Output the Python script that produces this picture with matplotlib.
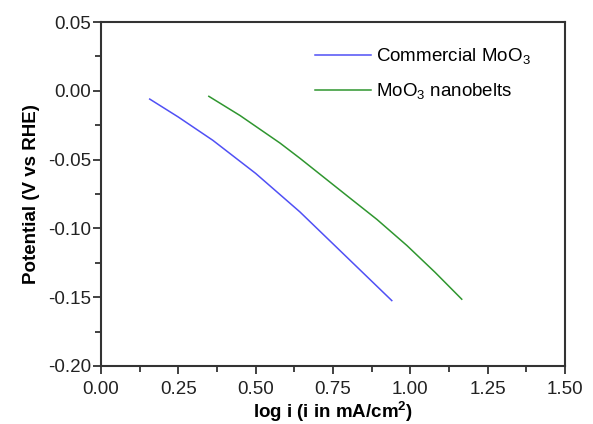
import matplotlib
matplotlib.use("Agg")
import matplotlib.pyplot as plt
from matplotlib.ticker import MultipleLocator

plt.rcParams['font.family'] = ['Liberation Sans', 'DejaVu Sans']
plt.rcParams['mathtext.fontset'] = 'custom'
plt.rcParams['mathtext.rm'] = 'Liberation Sans'
plt.rcParams['mathtext.it'] = 'Liberation Sans:italic'
plt.rcParams['mathtext.bf'] = 'Liberation Sans:bold'

# values
commercial_x = [0.158, 0.25, 0.362, 0.50, 0.643, 0.795, 0.94]
commercial_y = [-0.006, -0.019, -0.036, -0.060, -0.088, -0.121, -0.1525]
nanobelts_x = [0.349, 0.45, 0.579, 0.643, 0.805, 0.892, 0.989, 1.08, 1.166]
nanobelts_y = [-0.004, -0.018, -0.038, -0.049, -0.078, -0.0935, -0.1125, -0.132, -0.1515]
labels = ["Commercial MoO$_3$", "MoO$_3$ nanobelts"]

fig = plt.figure(figsize=(5.93, 4.24), dpi=100)
ax = fig.add_axes([0.170, 0.137, 0.783, 0.811])

ax.plot(commercial_x, commercial_y, color='#5050f5', lw=1.1, label=labels[0])
ax.plot(nanobelts_x, nanobelts_y, color='#2f962f', lw=1.1, label=labels[1])

ax.set_xlim(0, 1.5)
ax.set_ylim(-0.2, 0.05)
ax.xaxis.set_major_locator(MultipleLocator(0.25))
ax.xaxis.set_minor_locator(MultipleLocator(0.125))
ax.yaxis.set_major_locator(MultipleLocator(0.05))
ax.yaxis.set_minor_locator(MultipleLocator(0.025))
ax.xaxis.set_major_formatter(plt.FormatStrFormatter('%.2f'))
ax.yaxis.set_major_formatter(plt.FormatStrFormatter('%.2f'))

for s in ax.spines.values():
    s.set_color('#333333')
    s.set_linewidth(1.5)
ax.tick_params(which='both', direction='out', color='#333333', width=1.3,
               top=False, right=False, labelsize=13.5, labelcolor='#222222')
ax.tick_params(which='major', length=6)
ax.tick_params(which='minor', length=4)
ax.tick_params(axis='x', pad=5)
ax.tick_params(axis='y', pad=1)

ax.set_xlabel(r"log i (i in mA/cm$^{\mathbf{2}}$)", fontsize=13.5, fontweight='bold', labelpad=1)
ax.set_ylabel("Potential (V vs RHE)", fontsize=13.5, fontweight='bold', labelpad=6)

ax.legend(loc='upper left', bbox_to_anchor=(0.461, 0.93), borderaxespad=0, borderpad=0,
          frameon=False, fontsize=13.5, handlelength=3.0, handletextpad=0.25,
          labelspacing=0.8)

fig.savefig("out.png", dpi=100)
